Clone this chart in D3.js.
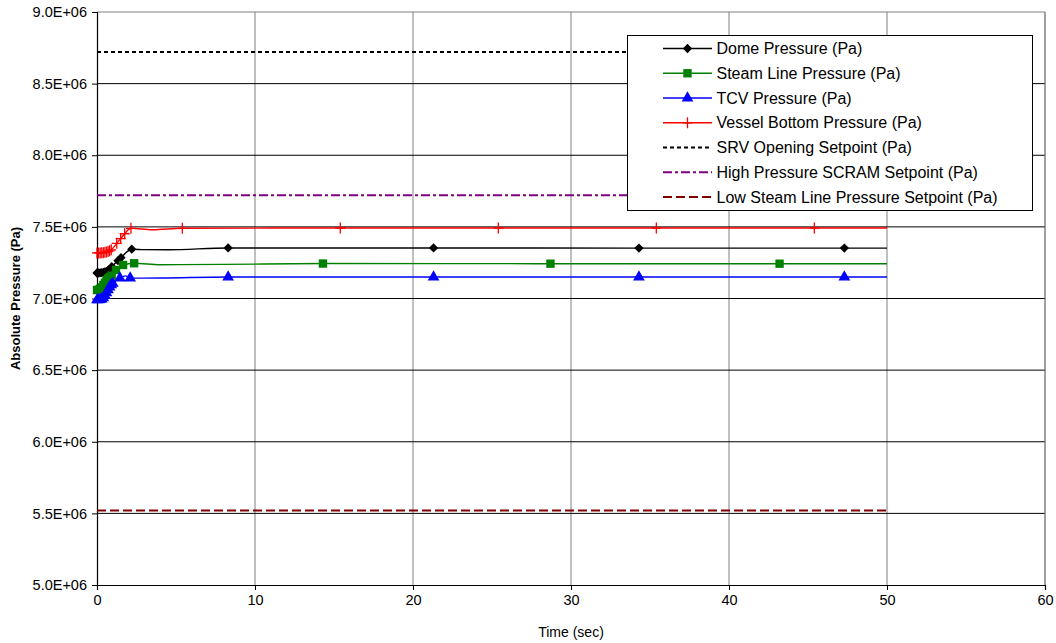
<!DOCTYPE html>
<html><head><meta charset="utf-8">
<script src="https://cdn.jsdelivr.net/npm/d3@7"></script>
<style>body{margin:0;background:#fff;}svg{display:block;font-family:Arial,"Liberation Sans",sans-serif;}</style>
</head><body>
<svg id="chart" width="1056" height="643"></svg>
<script>
// ---- data (pressures in Pa, time in sec) ----
const domeTime = [0,0.1,0.2,0.3,0.4,0.5,0.6,0.7,0.8,0.93,1.33,1.52,2.2,3.0,4.5,8.3,21.3,34.3,47.3,50];
const domeVal  = [7.178e6,7.178e6,7.179e6,7.180e6,7.182e6,7.185e6,7.190e6,7.196e6,7.204e6,7.222e6,7.264e6,7.285e6,7.344e6,7.341e6,7.340e6,7.353e6,7.353e6,7.352e6,7.352e6,7.352e6];
const domeMarks = [1,1,1,1,1,1,1,1,1,1,1,1,1,0,0,1,1,1,1,0];

const steamTime = [0,0.1,0.2,0.3,0.4,0.5,0.6,0.7,0.8,0.93,1.2,1.65,2.35,4.0,8.0,14.3,28.7,43.2,50];
const steamVal  = [7.059e6,7.062e6,7.068e6,7.078e6,7.094e6,7.110e6,7.125e6,7.140e6,7.150e6,7.160e6,7.199e6,7.234e6,7.246e6,7.236e6,7.238e6,7.244e6,7.243e6,7.243e6,7.243e6];
const steamMarks = [1,1,1,1,1,1,1,1,1,1,1,1,1,0,0,1,1,1,0];

const tcvTime = [0,0.1,0.2,0.3,0.4,0.5,0.6,0.7,0.8,0.9,1.0,1.45,1.8,2.1,4.0,8.3,21.3,34.3,47.3,50];
const tcvVal  = [6.990e6,6.990e6,6.992e6,6.996e6,7.005e6,7.020e6,7.040e6,7.060e6,7.080e6,7.095e6,7.105e6,7.142e6,7.158e6,7.142e6,7.143e6,7.150e6,7.150e6,7.150e6,7.150e6,7.150e6];
const tcvMarks = [1,1,1,1,1,1,1,1,1,1,1,1,0,1,0,1,1,1,1,0];

const vesselTime = [0,0.1,0.2,0.3,0.4,0.5,0.6,0.7,0.8,0.9,1.25,1.5,1.75,2.15,3.5,5.4,15.4,25.4,35.4,45.4,50];
const vesselVal  = [7.318e6,7.318e6,7.318e6,7.319e6,7.320e6,7.322e6,7.325e6,7.328e6,7.333e6,7.340e6,7.385e6,7.418e6,7.452e6,7.490e6,7.480e6,7.490e6,7.492e6,7.492e6,7.492e6,7.492e6,7.492e6];
const vesselMarks = [1,1,1,1,1,1,1,1,1,1,1,1,1,1,0,1,1,1,1,1,0];

const setpointTime = [0, 50];
const srvSetpoint   = [8.72e6, 8.72e6];
const scramSetpoint = [7.72e6, 7.72e6];
const lowSLSetpoint = [5.52e6, 5.52e6];

const xTicks = [0,10,20,30,40,50,60];
const yTicks = [5.0e6,5.5e6,6.0e6,6.5e6,7.0e6,7.5e6,8.0e6,8.5e6,9.0e6];

const seriesNames = ["Dome Pressure (Pa)","Steam Line Pressure (Pa)","TCV Pressure (Pa)","Vessel Bottom Pressure (Pa)",
  "SRV Opening Setpoint (Pa)","High Pressure SCRAM Setpoint (Pa)","Low Steam Line Pressure Setpoint (Pa)"];

// ---- layout ----
const svg = d3.select("#chart");
const m = {left:97, right:11, top:12, bottom:58};
const W = 1056, H = 643;
const x = d3.scaleLinear().domain([0,60]).range([m.left, W - m.right]);
const y = d3.scaleLinear().domain([5.0e6, 9.0e6]).range([H - m.bottom, m.top]);

// gridlines
svg.append("g").selectAll("line").data(xTicks.slice(1)).join("line")
  .attr("x1", d=>x(d)).attr("x2", d=>x(d)).attr("y1", y(5e6)).attr("y2", y(9e6))
  .attr("stroke", "#808080").attr("stroke-width", 1);
svg.append("g").selectAll("line").data(yTicks.slice(1, -1)).join("line")
  .attr("x1", x(0)).attr("x2", x(60)).attr("y1", d=>y(d)).attr("y2", d=>y(d))
  .attr("stroke", "#000").attr("stroke-width", 1);
// top/right border
svg.append("path").attr("d", `M${x(0)},${y(9e6)}H${x(60)}V${y(5e6)}`)
  .attr("fill","none").attr("stroke","#808080").attr("stroke-width",1);

// axes
const xAxis = d3.axisBottom(x).tickValues(xTicks).tickSize(5).tickPadding(5).tickFormat(d3.format("d"));
const yAxis = d3.axisLeft(y).tickValues(yTicks).tickSize(5).tickPadding(5)
  .tickFormat(d => (d/1e6).toFixed(1) + "E+06");
const gx = svg.append("g").attr("transform", `translate(0,${y(5e6)})`).call(xAxis);
const gy = svg.append("g").attr("transform", `translate(${x(0)},0)`).call(yAxis);
[gx, gy].forEach(g => {
  g.select(".domain").attr("stroke","#000").attr("stroke-width",1.2);
  g.selectAll(".tick line").attr("stroke","#000");
  g.selectAll(".tick text").attr("fill","#000").attr("font-size","14.5px").attr("font-family","Arial, 'Liberation Sans', sans-serif");
});

svg.append("text").attr("x", (x(0)+x(60))/2).attr("y", 637).attr("text-anchor","middle")
  .attr("font-size","14px").text("Time (sec)");
svg.append("text").attr("transform", `translate(20,${(y(5e6)+y(9e6))/2}) rotate(-90)`)
  .attr("text-anchor","middle").attr("font-size","13px").attr("font-weight","bold").text("Absolute Pressure (Pa)");

// ---- marker shapes ----
const markerDefs = {
  diamond: d3.symbol().type(d3.symbolDiamond2 || d3.symbolDiamond).size(55),
  square: d3.symbol().type(d3.symbolSquare).size(70),
  triangle: d3.symbol().type(d3.symbolTriangle).size(60),
};
function drawMarker(g, type, color, px, py) {
  if (type === "plus") {
    g.append("path").attr("d", `M${px-5},${py}H${px+5}M${px},${py-5.5}V${py+5.5}`)
      .attr("stroke", color).attr("stroke-width", 1.3).attr("fill","none");
  } else {
    g.append("path").attr("d", markerDefs[type]()).attr("transform", `translate(${px},${py})`)
      .attr("fill", color).attr("stroke","none");
  }
}

const line = d3.line().x(d=>x(d[0])).y(d=>y(d[1])).curve(d3.curveMonotoneX);

const setpoints = [
  {t:setpointTime, v:srvSetpoint, color:"#000000", dash:"4,3", w:2},
  {t:setpointTime, v:scramSetpoint, color:"#800080", dash:"9,3,3,3", w:2},
  {t:setpointTime, v:lowSLSetpoint, color:"#800000", dash:"9,4", w:2},
];
setpoints.forEach(s => {
  const pts = d3.zip(s.t, s.v);
  svg.append("path").datum(pts).attr("d", d3.line().x(d=>x(d[0])).y(d=>y(d[1])))
    .attr("fill","none").attr("stroke", s.color).attr("stroke-width", s.w).attr("stroke-dasharray", s.dash);
});

const series = [
  {t:vesselTime, v:vesselVal, mk:vesselMarks, color:"#ff0000", marker:"plus"},
  {t:domeTime, v:domeVal, mk:domeMarks, color:"#000000", marker:"diamond"},
  {t:steamTime, v:steamVal, mk:steamMarks, color:"#008000", marker:"square"},
  {t:tcvTime, v:tcvVal, mk:tcvMarks, color:"#0000ff", marker:"triangle"},
];
series.forEach(s => {
  const pts = d3.zip(s.t, s.v);
  svg.append("path").datum(pts).attr("d", line)
    .attr("fill","none").attr("stroke", s.color).attr("stroke-width", 1.4);
  const g = svg.append("g");
  pts.forEach((p,i) => { if (s.mk[i]) drawMarker(g, s.marker, s.color, x(p[0]), y(p[1])); });
});

// ---- legend ----
const lg = svg.append("g");
lg.append("rect").attr("x", 627.5).attr("y", 35.5).attr("width", 405).attr("height", 175)
  .attr("fill","#fff").attr("stroke","#000").attr("stroke-width",1);
const legendItems = [
  {color:"#000000", marker:"diamond", dash:null},
  {color:"#008000", marker:"square", dash:null},
  {color:"#0000ff", marker:"triangle", dash:null},
  {color:"#ff0000", marker:"plus", dash:null},
  {color:"#000000", marker:null, dash:"4,3"},
  {color:"#800080", marker:null, dash:"9,3,3,3"},
  {color:"#800000", marker:null, dash:"9,4"},
];
legendItems.forEach((it, i) => {
  const cy = 48.5 + i * 24.75;
  lg.append("line").attr("x1", 663).attr("x2", 712).attr("y1", cy).attr("y2", cy)
    .attr("stroke", it.color).attr("stroke-width", it.dash ? 2 : 1.4).attr("stroke-dasharray", it.dash);
  if (it.marker) drawMarker(lg, it.marker, it.color, 687.5, cy);
  lg.append("text").attr("x", 716.5).attr("y", cy + 5.5).attr("font-size","16px").attr("fill","#000").text(seriesNames[i]);
});
</script>
</body></html>
